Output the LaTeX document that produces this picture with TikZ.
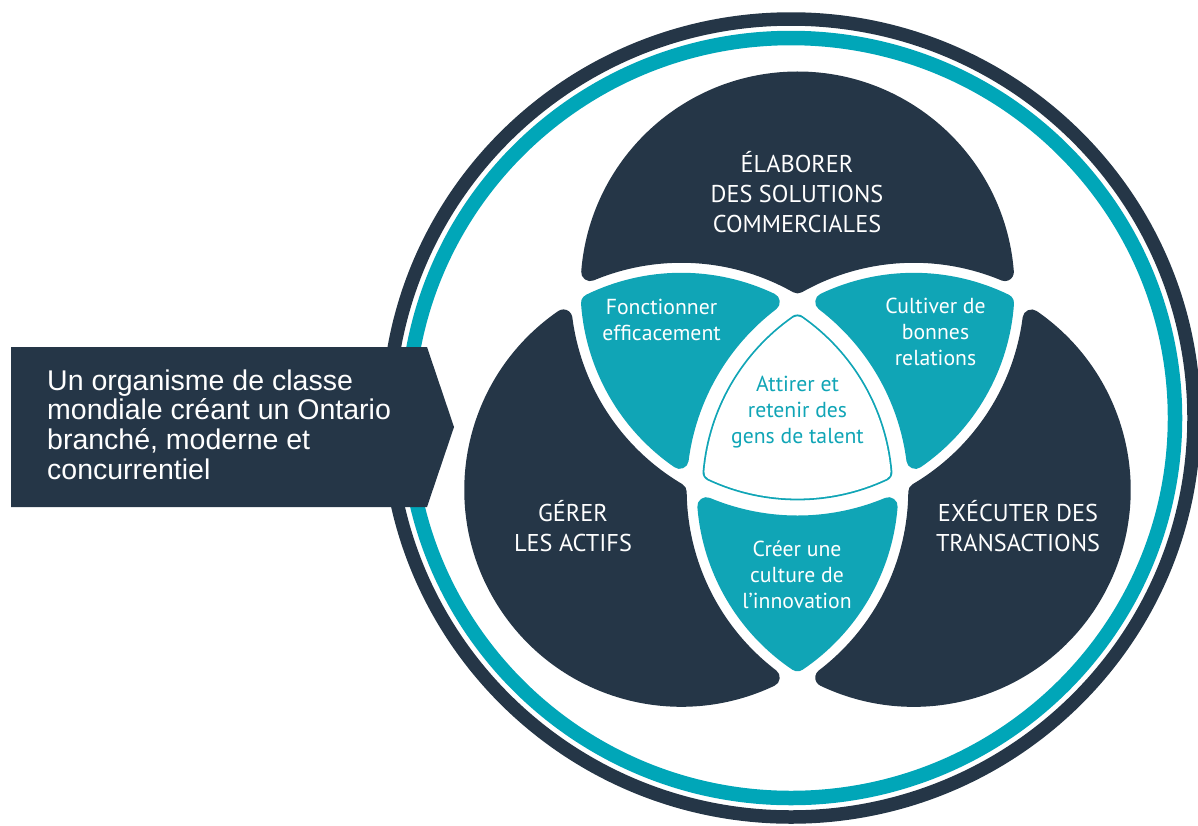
\documentclass[tikz,border=0pt]{standalone}
\usepackage{fontspec}
\setmainfont{PT Sans}
\newfontfamily\arialf{Liberation Sans}
\definecolor{navy}{RGB}{37,54,71}
\definecolor{tealA}{RGB}{16,165,182}
\definecolor{tealR}{RGB}{0,166,184}
\newcommand\mlines[2][c]{\begin{tabular}[t]{@{}#1@{}}#2\end{tabular}}
\begin{document}
\begin{tikzpicture}[x=1pt,y=-1pt,
  darklbl/.style={text=white, font=\fontsize{24.3}{30}\selectfont, anchor=base, inner sep=0pt},
  teallbl/.style={text=white, font=\fontsize{21.7}{26}\selectfont, anchor=base, inner sep=0pt},
  centerlbl/.style={teallbl, text=tealA},
  bannerlbl/.style={text=white, font=\arialf\fontsize{28.5}{29.6}\selectfont, anchor=base west, inner sep=0pt},
  darkreg/.style={fill=navy, draw=navy, line width=18pt, line join=round},
  tealreg/.style={fill=tealA, draw=tealA, line width=18pt, line join=round}]
\useasboundingbox (0,0) rectangle (1198,825);
% outer rings
\coordinate (ring) at (791,418);
\draw[navy, line width=13.5pt] (ring) ellipse [x radius=403pt, y radius=399pt];
\draw[tealR, line width=14.5pt] (ring) ellipse [x radius=384pt, y radius=380pt];
% venn (local frame: origin at centroid, y up)
\begin{scope}[shift={(797.5,422.7)}, y=1pt]
  \foreach \a in {0,120,240} {
    \filldraw[darkreg, rotate=\a] (207.36,150.60)
      arc[start angle=4.52, end angle=175.48, radius=208pt]
      arc[start angle=112.72, end angle=60.50, radius=236pt]
      arc[start angle=119.50, end angle=67.28, radius=236pt] -- cycle;
    \filldraw[tealreg, rotate=\a] (-207.50,119.80)
      arc[start angle=183.97, end angle=235.48, radius=208pt]
      arc[start angle=172.72, end angle=127.28, radius=236pt]
      arc[start angle=64.52, end angle=116.03, radius=208pt] -- cycle;
  }
  % centre outline (rounded)
  \draw[tealA, line width=17.8pt, line join=round] (0,99.34)
      arc[start angle=124.92, end angle=175.07, radius=203pt]
      arc[start angle=244.93, end angle=295.07, radius=203pt]
      arc[start angle=4.93, end angle=55.08, radius=203pt] -- cycle;
  \filldraw[fill=white, draw=white, line width=14.2pt, line join=round] (0,99.34)
      arc[start angle=124.92, end angle=175.07, radius=203pt]
      arc[start angle=244.93, end angle=295.07, radius=203pt]
      arc[start angle=4.93, end angle=55.08, radius=203pt] -- cycle;
\end{scope}
% banner
\fill[navy] (11,347) -- (427,347) -- (454,427) -- (427,507) -- (11,507) -- cycle;
\node[bannerlbl] (vision) at (47,390) {\mlines[l]{Un organisme de classe\\mondiale créant un Ontario\\branché, moderne et\\concurrentiel}};
% labels
\node[darklbl] (elab) at (797,172) {\mlines{ÉLABORER\\DES SOLUTIONS\\COMMERCIALES}};
\node[darklbl] (gerer) at (573,521) {\mlines{GÉRER\\LES ACTIFS}};
\node[darklbl] (exec) at (1018,521) {\mlines{EXÉCUTER DES\\TRANSACTIONS}};
\node[teallbl] (fonc) at (661.5,314) {\mlines{Fonctionner\\efficacement}};
\node[teallbl] (cult) at (935.5,313.5) {\mlines{Cultiver de\\bonnes\\relations}};
\node[centerlbl] (attir) at (797.5,391) {\mlines{Attirer et\\retenir des\\gens de talent}};
\node[teallbl] (creer) at (797,556) {\mlines{Créer une\\culture de\\l’innovation}};
\end{tikzpicture}
\end{document}
